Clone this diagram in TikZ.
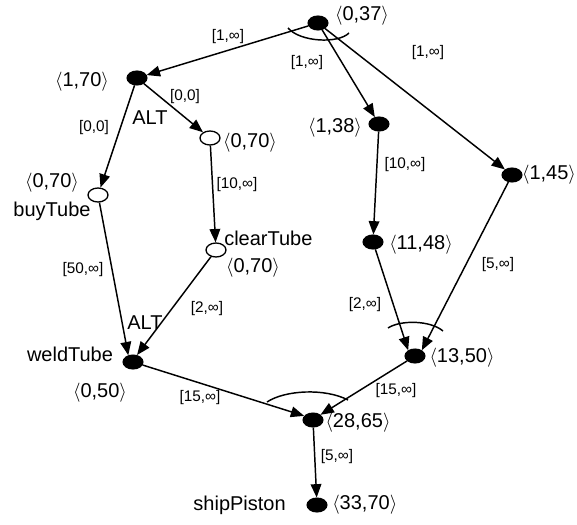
\documentclass[tikz,border=0pt]{standalone}
\usepackage{fontspec}
\setmainfont{Liberation Sans}
\usetikzlibrary{arrows.meta,shapes.geometric}
\newcommand{\tpair}[1]{$\langle$#1$\rangle$}
\begin{document}
\begin{tikzpicture}[x=0.75pt,y=-0.75pt,
  dot/.style={ellipse,draw,fill=black,minimum width=15pt,minimum height=10.5pt,inner sep=0pt,line width=0.8pt},
  odot/.style={ellipse,draw,fill=white,minimum width=15pt,minimum height=10.5pt,inner sep=0pt,line width=1pt},
  big/.style={font=\fontsize{15}{18}\selectfont,inner sep=0pt},
  small/.style={font=\fontsize{11.5}{14}\selectfont,inner sep=0pt},
  conn/.style={line width=1.1pt,-{Triangle[length=10pt,width=8pt]}},
  andarc/.style={line width=1.1pt}]
\useasboundingbox[fill=white] (0,0) rectangle (577,524);

% nodes
\node[dot]  (top)   at (318,23)  {};
\node[dot]  (n170)  at (137,78)  {};
\node[dot]  (n138)  at (379,124) {};
\node[dot]  (n145)  at (512,175) {};
\node[odot] (n070)  at (210,138) {};
\node[odot] (buy)   at (98,195)  {};
\node[odot] (clear) at (216,250) {};
\node[dot]  (n1148) at (373,242) {};
\node[dot]  (weld)  at (133,362) {};
\node[dot]  (n1350) at (415,356) {};
\node[dot]  (n2865) at (313,420) {};
\node[dot]  (ship)  at (317,505) {};

% connectors
\draw[conn] (top) -- (n170);
\draw[conn] (top) -- (n138);
\draw[conn] (top) -- (n145);
\draw[conn] (n170) -- (n070);
\draw[conn] (n170) -- (buy);
\draw[conn] (n070) -- (clear);
\draw[conn] (buy) -- (weld.125);
\draw[conn] (clear) -- (weld.60);
\draw[conn] (n138) -- (n1148);
\draw[conn] (n1148) -- (n1350.140);
\draw[conn] (n145) -- (n1350.40);
\draw[conn] (weld) -- (n2865.155);
\draw[conn] (n1350) -- (n2865.35);
\draw[conn] (n2865) -- (ship);

% AND arcs
\draw[andarc] (288,28) .. controls (300,42) and (338,44) .. (349,33);
\draw[andarc] (388,328) .. controls (400,320) and (430,320) .. (443,331);
\draw[andarc] (267,402) .. controls (285,390) and (325,388) .. (348,400);

% big labels
\node[big] (t037)  at (362,16)  {\tpair{0,37}};
\node[big] (t170)  at (82,82)   {\tpair{1,70}};
\node[big] (alt1)  at (150,118) {ALT};
\node[big] (t070a) at (250,143) {\tpair{0,70}};
\node[big] (t070b) at (52,183)  {\tpair{0,70}};
\node[big] (tbuy)  at (52,211)  {buyTube};
\node[big,anchor=west] (tclear) at (224,238) {clearTube};
\node[big] (t070c) at (253,268) {\tpair{0,70}};
\node[big] (alt2)  at (145,323) {ALT};
\node[big] (tweld) at (70,354)  {weldTube};
\node[big] (t050)  at (100,393) {\tpair{0,50}};
\node[big] (t138)  at (335,128) {\tpair{1,38}};
\node[big] (t145)  at (549,175) {\tpair{1,45}};
\node[big] (t1148) at (421,245) {\tpair{11,48}};
\node[big] (t1350) at (462,358) {\tpair{13,50}};
\node[big] (t2865) at (358,423) {\tpair{28,65}};
\node[big,anchor=east] (tship) at (286,505) {shipPiston};
\node[big,anchor=west] (t3370) at (332,505) {\tpair{33,70}};

% small labels
\node[small] (e1)  at (228,37)  {[1,∞]};
\node[small] (e2)  at (307,63)  {[1,∞]};
\node[small] (e3)  at (428,53)  {[1,∞]};
\node[small] (e4)  at (185,97)  {[0,0]};
\node[small] (e5)  at (94,128)  {[0,0]};
\node[small] (e6)  at (237,185) {[10,∞]};
\node[small] (e7)  at (83,270)  {[50,∞]};
\node[small] (e8)  at (207,309) {[2,∞]};
\node[small] (e9)  at (200,398) {[15,∞]};
\node[small] (e10) at (405,165) {[10,∞]};
\node[small] (e11) at (498,265) {[5,∞]};
\node[small] (e12) at (365,305) {[2,∞]};
\node[small] (e13) at (396,391) {[15,∞]};
\node[small] (e14) at (337,457) {[5,∞]};
\end{tikzpicture}
\end{document}
